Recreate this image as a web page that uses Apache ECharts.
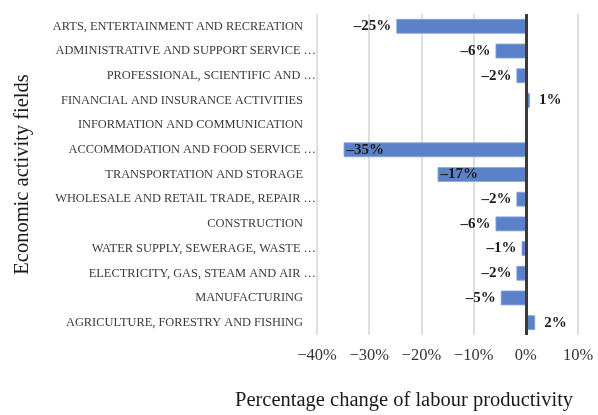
<!DOCTYPE html>
<html>
<head>
<meta charset="utf-8">
<script src="https://cdn.jsdelivr.net/npm/echarts@6/dist/echarts.min.js"></script>
<style>html,body{margin:0;padding:0;background:#fff}#c{width:598px;height:415px}</style>
</head>
<body>
<div id="c"></div>
<script>
const categories = [
  'ARTS, ENTERTAINMENT AND RECREATION',
  'ADMINISTRATIVE AND SUPPORT SERVICE …',
  'PROFESSIONAL, SCIENTIFIC AND …',
  'FINANCIAL AND INSURANCE ACTIVITIES',
  'INFORMATION AND COMMUNICATION',
  'ACCOMMODATION AND FOOD SERVICE …',
  'TRANSPORTATION AND STORAGE',
  'WHOLESALE AND RETAIL TRADE, REPAIR …',
  'CONSTRUCTION',
  'WATER SUPPLY, SEWERAGE, WASTE …',
  'ELECTRICITY, GAS, STEAM AND AIR …',
  'MANUFACTURING',
  'AGRICULTURE, FORESTRY AND FISHING'
];
const values = [-24.8, -5.8, -1.8, 0.8, 0, -34.9, -16.9, -1.8, -5.8, -0.8, -1.8, -4.8, 1.8];
const xTicks = { min: -40, max: 10, interval: 10 };

// label placement style: these rows carry their label inside the bar
const insideLabelRows = [5, 6];

const serif = '"Liberation Serif", "DejaVu Serif", serif';
const chart = echarts.init(document.getElementById('c'));

const data = values.map((v, i) => {
  let pos, dist;
  if (insideLabelRows.includes(i)) { pos = 'insideLeft'; dist = 3; }
  else if (v < 0) { pos = 'left'; dist = 5; }
  else { pos = 'right'; dist = 9; }
  return { value: v, label: { position: pos, distance: dist } };
});

chart.setOption({
  animation: false,
  grid: { left: 317, right: 20, top: 14, bottom: 80, containLabel: false },
  title: {
    text: 'Percentage change of labour productivity',
    left: 230, top: 385,
    textStyle: { fontFamily: serif, fontSize: 20.5, fontWeight: 'normal', color: '#1a1a1a' }
  },
  xAxis: {
    type: 'value', min: xTicks.min, max: xTicks.max, interval: xTicks.interval,
    axisLine: { show: false }, axisTick: { show: false },
    splitLine: { show: true, lineStyle: { color: '#d4d4d4', width: 1.5 } },
    axisLabel: {
      margin: 12, fontFamily: serif, fontSize: 16.5, color: '#333',
      formatter: v => (v < 0 ? '\u2212' + Math.abs(v) : v) + '%'
    }
  },
  yAxis: {
    type: 'category', data: categories, inverse: true,
    name: 'Economic activity fields', nameLocation: 'middle', nameGap: 284,
    nameTextStyle: { fontFamily: serif, fontSize: 20.5, color: '#1a1a1a' },
    axisLine: { show: false }, axisTick: { show: false },
    axisLabel: {
      margin: 1,
      formatter: s => s.endsWith('…') ? '{a|' + s + '}' : '{b|' + s + '}',
      rich: {
        a: { fontFamily: serif, fontSize: 12.4, color: '#3a3a3a' },
        b: { fontFamily: serif, fontSize: 12.4, color: '#3a3a3a', padding: [0, 13, 0, 0] }
      }
    }
  },
  series: [{
    type: 'bar', data: data, barCategoryGap: '40%',
    itemStyle: { color: '#5b82c8', borderColor: '#8aa5d8', borderWidth: 0.8 },
    label: {
      show: true, fontFamily: serif, fontSize: 15, fontWeight: 'bold', color: '#1a1a1a',
      formatter: p => {
        const r = Math.round(p.value);
        if (p.value === 0) return '';
        return (r < 0 ? '\u2013' + Math.abs(r) : r) + '%';
      }
    },
    markLine: {
      silent: true, symbol: 'none', label: { show: false },
      lineStyle: { color: '#3a3a3a', width: 3, type: 'solid' },
      data: [{ xAxis: 0 }]
    }
  }]
});
</script>
</body>
</html>
